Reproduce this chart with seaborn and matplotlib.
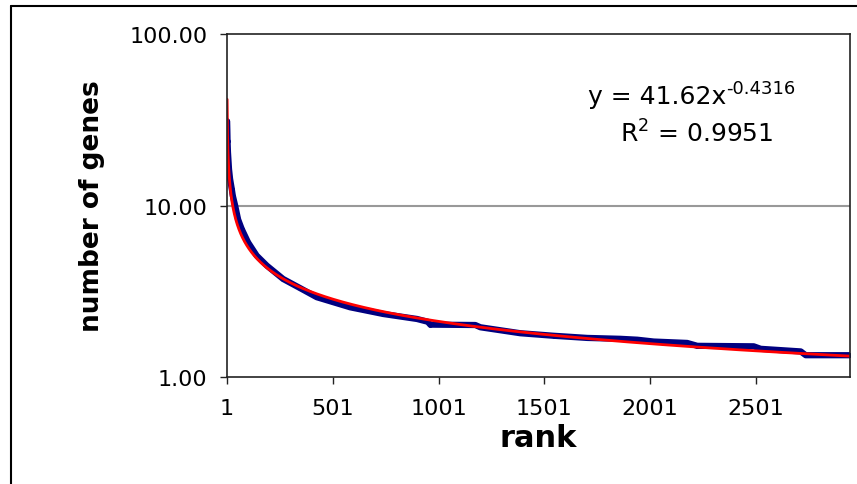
import numpy as np
import pandas as pd
import matplotlib
matplotlib.use("Agg")
import matplotlib.pyplot as plt
import seaborn as sns
from matplotlib.lines import Line2D
from matplotlib.ticker import FixedLocator, FormatStrFormatter, NullLocator

rank = [1, 2, 3, 5, 7, 10, 15, 23, 28, 39, 53, 70, 100, 141, 189, 266, 346,
        425, 583, 740, 899, 950, 962, 1175, 1199, 1388, 1545, 1705, 1861,
        1941, 2019, 2177, 2225, 2492, 2525, 2714, 2738, 2946]
genes = [31.0, 27.6, 23.8, 20.5, 18.7, 16.3, 14.3, 12.5, 11.4, 10.0, 8.3,
         7.3, 6.1, 5.1, 4.46, 3.73, 3.30, 2.92, 2.55, 2.33, 2.18, 2.10, 2.02,
         2.01, 1.95, 1.80, 1.74, 1.69, 1.67, 1.65, 1.61, 1.58, 1.52, 1.51,
         1.46, 1.41, 1.34, 1.34]

# Power trendline from the chart
fit_a = 41.62
fit_b = -0.4316
r_squared = 0.9951

x_ticks = [1, 501, 1001, 1501, 2001, 2501]
y_ticks = [1, 10, 100]

df = pd.DataFrame({"rank": rank, "genes": genes})
fit_x = np.arange(1, 2947)
fit_df = pd.DataFrame({"rank": fit_x, "fit": fit_a * fit_x ** fit_b})

sns.set_style("white")
plt.rcParams["font.family"] = ["DejaVu Sans"]
plt.rcParams["mathtext.default"] = "regular"
plt.rcParams["text.color"] = "black"
plt.rcParams["axes.labelcolor"] = "black"
plt.rcParams["xtick.color"] = "black"
plt.rcParams["ytick.color"] = "black"

fig = plt.figure(figsize=(8.57, 4.85), dpi=100)
ax = fig.add_axes([0.265, 0.2206, 0.7265, 0.7072])

sns.lineplot(data=df, x="rank", y="genes", ax=ax, color="#000080",
             linewidth=4.5, marker="o", markersize=3.5, markeredgewidth=0)
sns.lineplot(data=fit_df, x="rank", y="fit", ax=ax, color="#ff0000",
             linewidth=2)

ax.set_yscale("log")
ax.set_ylim(1, 100)
ax.set_xlim(1, 2946)
ax.yaxis.set_major_locator(FixedLocator(y_ticks))
ax.yaxis.set_minor_locator(NullLocator())
ax.yaxis.set_major_formatter(FormatStrFormatter("%.2f"))
ax.set_xticks(x_ticks)
ax.set_xticklabels([str(t) for t in x_ticks])

ax.axhline(10, color="#999999", linewidth=1.5, zorder=0)

for s in ax.spines.values():
    s.set_color("#222222")
    s.set_linewidth(1.2)

ax.tick_params(axis="both", which="major", direction="out", length=5,
               width=1, color="#222222", labelsize=16, left=True, bottom=True)
ax.tick_params(axis="y", pad=9)
ax.tick_params(axis="x", pad=10)

ax.set_xlabel("rank", fontsize=22, fontweight="bold", labelpad=4)
ax.set_ylabel("number of genes", fontsize=19, fontweight="bold", labelpad=18)

# trendline equation, superscript drawn as its own text to keep the hyphen
eq = ax.text(0.69, 0.82, f"y = {fit_a:.2f}x", transform=ax.transAxes,
             fontsize=18, ha="center", va="center")
ax.annotate(f"{fit_b:.4f}", xy=(1.0, 0.45), xycoords=eq, fontsize=13,
            ha="left", va="bottom")
ax.text(0.755, 0.71, f"R$^{{2}}$ = {r_squared:.4f}", transform=ax.transAxes,
        fontsize=18, ha="center", va="center")

# outer frame (left and top edges visible)
fig.add_artist(Line2D([11 / 857, 11 / 857], [0, 1 - 7 / 485],
                      transform=fig.transFigure, color="black", linewidth=1.5))
fig.add_artist(Line2D([11 / 857, 1], [1 - 7 / 485, 1 - 7 / 485],
                      transform=fig.transFigure, color="black", linewidth=1.5))

fig.savefig("out.png", dpi=100)
